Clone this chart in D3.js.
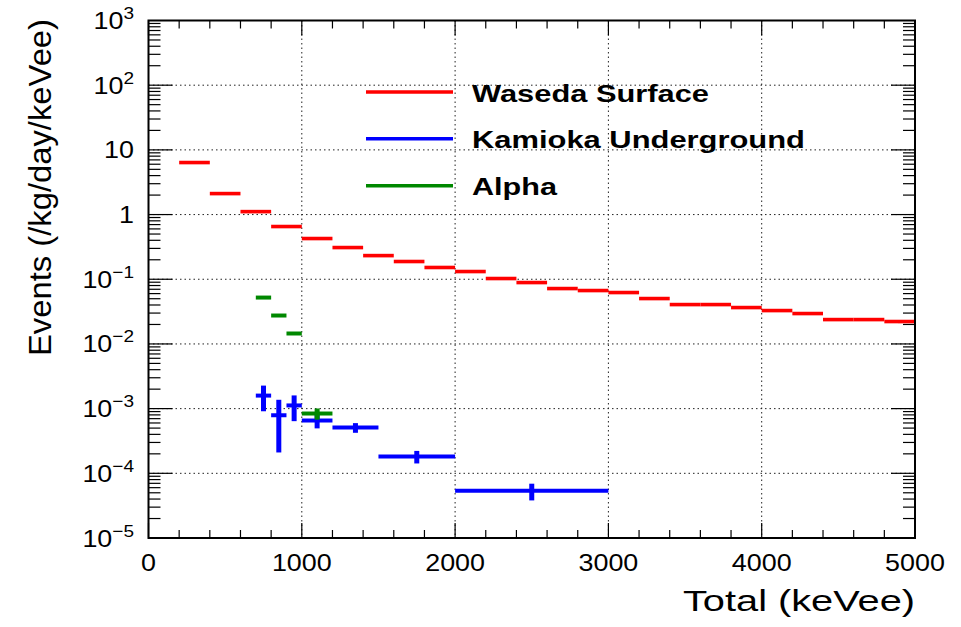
<!DOCTYPE html>
<html>
<head>
<meta charset="utf-8">
<script src="https://cdn.jsdelivr.net/npm/d3@7"></script>
<style>
  html, body { margin: 0; padding: 0; background: #fff; }
  svg { display: block; font-family: "Liberation Sans", Arial, Helvetica, sans-serif; }
</style>
</head>
<body>
<svg id="chart" width="961" height="627"></svg>
<script>
// Waseda surface spectrum: 200 keV bins
const wasedaLo  = [200, 400, 600, 800, 1000, 1200, 1400, 1600, 1800, 2000, 2200, 2400,
                   2600, 2800, 3000, 3200, 3400, 3600, 3800, 4000, 4200, 4400, 4600, 4800];
const wasedaHi  = [400, 600, 800, 1000, 1200, 1400, 1600, 1800, 2000, 2200, 2400, 2600,
                   2800, 3000, 3200, 3400, 3600, 3800, 4000, 4200, 4400, 4600, 4800, 5000];
const wasedaVal = [6.37, 2.11, 1.11, 0.653, 0.426, 0.309, 0.232, 0.188, 0.152, 0.1316, 0.1026, 0.0889,
                   0.0718, 0.0669, 0.0623, 0.0503, 0.0406, 0.0406, 0.0365, 0.0328, 0.0295, 0.0238, 0.0238, 0.0222];
const wasedaErr = [0.05, 0.02, 0.012, 0.008, 0.006, 0.005, 0.004, 0.0035, 0.003, 0.0028, 0.0024, 0.0022,
                   0.0019, 0.0018, 0.0018, 0.0016, 0.0014, 0.0014, 0.0016, 0.0014, 0.0013, 0.0012, 0.0012, 0.0012];

// Kamioka underground spectrum: variable bins
const kamiokaLo  = [700, 800, 900, 1000, 1200, 1500, 2000];
const kamiokaHi  = [800, 900, 1000, 1200, 1500, 2000, 3000];
const kamiokaX   = [750, 850, 950, 1100, 1350, 1750, 2500];
const kamiokaVal = [1.59e-3, 7.9e-4, 1.12e-3, 6.55e-4, 5.1e-4, 1.82e-4, 5.36e-5];
const kamiokaErr = [6.8e-4, 5.8e-4, 4.8e-4, 1.6e-4, 8.7e-5, 4.0e-5, 1.55e-5];

// Alpha events
const alphaLo  = [700, 800, 900, 1000];
const alphaHi  = [800, 900, 1000, 1200];
const alphaX   = [750, 850, 950, 1100];
const alphaVal = [0.0521, 0.0275, 0.0145, 8.4e-4];
const alphaErr = [0.0005, 0.0004, 0.0003, 1.65e-4];

const xTicks = [0, 1000, 2000, 3000, 4000, 5000];
const yExponents = [-5, -4, -3, -2, -1, 0, 1, 2, 3];

const legendItems = [
  { name: "Waseda Surface",       color: "#ff0000", width: 237 },
  { name: "Kamioka Underground",  color: "#0000ff", width: 333 },
  { name: "Alpha",                color: "#008800", width: 85 }
];

const svg = d3.select("#chart");
const plotL = 148.5, plotR = 915, plotT = 20.5, plotB = 538;

const x = d3.scaleLinear().domain([0, 5000]).range([plotL, plotR]);
const y = d3.scaleLog().domain([1e-5, 1e3]).range([plotB, plotT]);

const FONT = '"Liberation Sans", Arial, Helvetica, sans-serif';

// grid
const grid = svg.append("g").attr("stroke", "#222").attr("stroke-width", 1)
  .attr("stroke-dasharray", "1.5,3").attr("fill", "none");
xTicks.slice(1, -1).forEach(t => {
  grid.append("line").attr("x1", x(t)).attr("x2", x(t)).attr("y1", plotT).attr("y2", plotB);
});
yExponents.slice(1, -1).forEach(e => {
  grid.append("line").attr("x1", plotL).attr("x2", plotR).attr("y1", y(Math.pow(10, e))).attr("y2", y(Math.pow(10, e)));
});

// tick marks on all four sides
const ticks = svg.append("g").attr("stroke", "#000").attr("stroke-width", 1.2);
for (let e = -5; e < 3; e++) {
  for (let m = 1; m <= 9; m++) {
    const v = m * Math.pow(10, e);
    const len = m === 1 ? 24 : 12;
    ticks.append("line").attr("x1", plotL).attr("x2", plotL + len).attr("y1", y(v)).attr("y2", y(v));
    ticks.append("line").attr("x1", plotR).attr("x2", plotR - len).attr("y1", y(v)).attr("y2", y(v));
  }
}
d3.range(0, 5001, 200).forEach(t => {
  const len = t % 1000 === 0 ? 15 : 8;
  ticks.append("line").attr("x1", x(t)).attr("x2", x(t)).attr("y1", plotB).attr("y2", plotB - len);
  ticks.append("line").attr("x1", x(t)).attr("x2", x(t)).attr("y1", plotT).attr("y2", plotT + len);
});

// data layers
function drawHist(g, lo, hi, val, err, cx, color, hw, vw) {
  lo.forEach((l, i) => {
    const xc = cx ? cx[i] : (l + hi[i]) / 2;
    g.append("line").attr("x1", x(l)).attr("x2", x(hi[i]))
      .attr("y1", y(val[i])).attr("y2", y(val[i]))
      .attr("stroke", color).attr("stroke-width", hw);
    g.append("line").attr("x1", x(xc)).attr("x2", x(xc))
      .attr("y1", y(val[i] + err[i])).attr("y2", y(Math.max(val[i] - err[i], 1e-6)))
      .attr("stroke", color).attr("stroke-width", vw);
  });
}
drawHist(svg.append("g"), wasedaLo, wasedaHi, wasedaVal, wasedaErr, null, "#ff0000", 3.6, 4);
drawHist(svg.append("g"), kamiokaLo, kamiokaHi, kamiokaVal, kamiokaErr, kamiokaX, "#0000ff", 4, 5);
drawHist(svg.append("g"), alphaLo, alphaHi, alphaVal, alphaErr, alphaX, "#008800", 4, 5);

// frame
svg.append("rect").attr("x", plotL).attr("y", plotT).attr("width", plotR - plotL).attr("height", plotB - plotT)
  .attr("fill", "none").attr("stroke", "#000").attr("stroke-width", 2);

// x tick labels
xTicks.forEach(t => {
  svg.append("g").attr("transform", `translate(${x(t)},571) scale(1.12,1)`)
    .append("text").attr("text-anchor", "middle").attr("font-size", 24).attr("font-family", FONT)
    .attr("fill", "#000").text(t);
});

// y tick labels
yExponents.forEach(e => {
  const g = svg.append("g").attr("transform", `translate(134,${y(Math.pow(10, e)) + 8.5}) scale(1.12,1)`);
  const t = g.append("text").attr("text-anchor", "end").attr("font-size", 24).attr("font-family", FONT).attr("fill", "#000");
  if (e === 0) t.text("1");
  else if (e === 1) t.text("10");
  else {
    t.append("tspan").text("10");
    t.append("tspan").attr("font-size", 17).attr("dy", -10).text(e < 0 ? "\u2212" + (-e) : String(e));
  }
});

// axis titles
svg.append("text").attr("x", 915).attr("y", 611).attr("text-anchor", "end")
  .attr("font-size", 29).attr("font-family", FONT).attr("fill", "#000")
  .attr("textLength", 232).attr("lengthAdjust", "spacingAndGlyphs")
  .text("Total (keVee)");
svg.append("text").attr("transform", "translate(51,19) rotate(-90)").attr("text-anchor", "end")
  .attr("font-size", 32).attr("font-family", FONT).attr("fill", "#000")
  .attr("textLength", 337).attr("lengthAdjust", "spacingAndGlyphs")
  .text("Events (/kg/day/keVee)");

// legend
const legendY = [92, 138.7, 185.7];
legendItems.forEach((d, i) => {
  svg.append("line").attr("x1", 366).attr("x2", 453).attr("y1", legendY[i]).attr("y2", legendY[i])
    .attr("stroke", d.color).attr("stroke-width", 3.5);
  svg.append("text").attr("x", 472).attr("y", legendY[i] + 9.5)
    .attr("font-size", 24).attr("font-weight", "bold").attr("font-family", FONT).attr("fill", "#000")
    .attr("textLength", d.width).attr("lengthAdjust", "spacingAndGlyphs")
    .text(d.name);
});
</script>
</body>
</html>
